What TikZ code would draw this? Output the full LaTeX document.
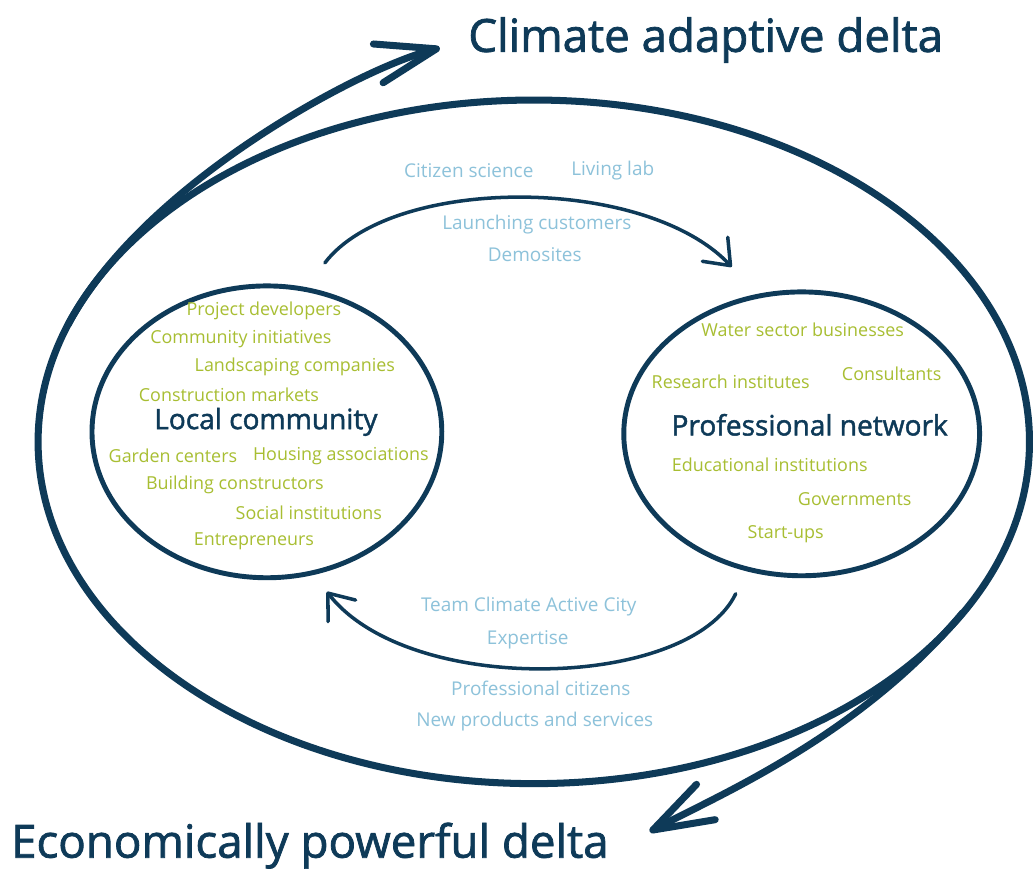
\documentclass[tikz,border=0pt]{standalone}
\usepackage{fontspec}
\setmainfont{Open Sans}
\newfontfamily\medfont[FakeBold=1.6]{Open Sans}
\usetikzlibrary{arrows.meta,shapes.geometric}
\definecolor{navy}{HTML}{0E3A58}
\definecolor{sky}{HTML}{8DC2DA}
\definecolor{leaf}{HTML}{A8BE32}
\tikzset{
	ring/.style={ellipse, draw=navy, inner sep=0pt},
	leaftext/.style={text=leaf, font=\fontsize{10.2}{12}\selectfont},
	skytext/.style={text=sky, font=\fontsize{10.8}{13}\selectfont},
	hubtext/.style={text=navy, font=\medfont\fontsize{16}{19}\selectfont},
	deltatext/.style={text=navy, font=\medfont\fontsize{26}{31}\selectfont},
	bigarrow/.style={draw=navy, line width=4pt, line cap=round, -{Straight Barb[length=12mm,width=8mm,round]}},
	smallarrow/.style={draw=navy, line width=2pt, line cap=round, -{Straight Barb[length=4.5mm,width=7mm,round]}}
}

\begin{document}
\begin{tikzpicture}[x=0.02cm, y=-0.02cm]
			%%%%% START %%%%%
			
			\fill[white] (0,0) rectangle (1033,872);
			
			% outer ring and the two groups
			\node[ring, line width=4pt, minimum width=19.84cm, minimum height=13.68cm] (delta) at (534,442) {};
			\node[ring, line width=2.8pt, minimum width=7cm, minimum height=5.84cm] (local) at (267,432) {};
			\node[ring, line width=2.8pt, minimum width=7.12cm, minimum height=5.68cm] (network) at (802,434) {};
			
			% the ring turns into the two outcomes
			\coordinate (upstart) at (68,325);
			\coordinate (upend) at (440,48);
			\coordinate (downstart) at (963,613);
			\coordinate (downend) at (650,832);
			\draw[bigarrow] (upstart) .. controls (143,184) and (360,68) .. (upend);
			\draw[bigarrow] (downstart) .. controls (860,736) and (720,795) .. (downend);
			
			\node[deltatext] (climate) at (706,40) {Climate adaptive delta};
			\node[deltatext] (economy) at (310,846) {Economically powerful delta};
			
			% exchange between the groups
			\coordinate (toplt) at (325,263);
			\coordinate (toprt) at (732,267);
			\coordinate (botrt) at (736,594);
			\coordinate (botlt) at (327,592);
			\draw[smallarrow] (toplt) .. controls (392,175) and (645,175) .. (toprt);
			\draw[smallarrow] (botrt) .. controls (690,690) and (410,698) .. (botlt);
			
			\node[skytext] (citizen) at (469,171) {Citizen science};
			\node[skytext] (livinglab) at (613,171) {Living lab};
			\node[skytext] (launching) at (537,225) {Launching customers};
			\node[skytext] (demosites) at (535,255) {Demosites};
			\node[skytext] (team) at (529,607) {Team Climate Active City};
			\node[skytext] (expertise) at (528,640) {Expertise};
			\node[skytext] (profcit) at (541,689) {Professional citizens};
			\node[skytext] (products) at (535,722) {New products and services};
			
			% local community
			\node[hubtext] (localname) at (266,422) {Local community};
			\node[leaftext] (projdev) at (264,311) {Project developers};
			\node[leaftext] (initiatives) at (241,339) {Community initiatives};
			\node[leaftext] (landscaping) at (295,367) {Landscaping companies};
			\node[leaftext] (construction) at (229,395) {Construction markets};
			\node[leaftext] (garden) at (173,456) {Garden centers};
			\node[leaftext] (housing) at (341,456) {Housing associations};
			\node[leaftext] (builders) at (235,485) {Building constructors};
			\node[leaftext] (social) at (309,513) {Social institutions};
			\node[leaftext] (entrepreneurs) at (254,541) {Entrepreneurs};
			
			% professional network
			\node[hubtext] (networkname) at (810,425) {Professional network};
			\node[leaftext] (water) at (803,330) {Water sector businesses};
			\node[leaftext] (research) at (731,382) {Research institutes};
			\node[leaftext] (consultants) at (892,374) {Consultants};
			\node[leaftext] (education) at (770,465) {Educational institutions};
			\node[leaftext] (governments) at (855,499) {Governments};
			\node[leaftext] (startups) at (786,534) {Start-ups};
			
			%%%%% END %%%%%
\end{tikzpicture}
\end{document}
